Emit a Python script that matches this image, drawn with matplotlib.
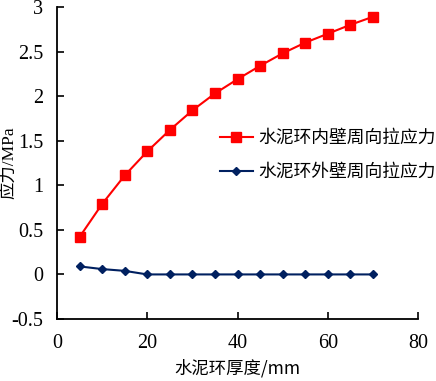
import matplotlib
matplotlib.use("Agg")
import matplotlib.pyplot as plt

thickness = [5, 10, 15, 20, 25, 30, 35, 40, 45, 50, 55, 60, 65, 70]
inner_stress = [0.42, 0.79, 1.11, 1.38, 1.62, 1.84, 2.03, 2.19, 2.34, 2.48, 2.60, 2.70, 2.80, 2.89]
outer_stress = [0.09, 0.06, 0.04, 0.0, 0.0, 0.0, 0.0, 0.0, 0.0, 0.0, 0.0, 0.0, 0.0, 0.0]
series_names = ["水泥环内壁周向拉应力", "水泥环外壁周向拉应力"]
x_ticks = [0, 20, 40, 60, 80]
y_ticks = [-0.5, 0, 0.5, 1, 1.5, 2, 2.5, 3]
x_label = "水泥环厚度/mm"
y_label = "应力/MPa"

serif = ["Liberation Serif", "Noto Sans CJK SC"]
cjk = ["Noto Sans CJK SC", "DejaVu Sans"]

fig = plt.figure(figsize=(4.36, 3.81), dpi=100)
ax = fig.add_axes([57/436, 62/381, (418-57)/436, (319-7)/381])

ax.plot(thickness, inner_stress, color="#FF0000", marker="s", markersize=6.5,
        linewidth=1.5, label=series_names[0])
ax.plot(thickness, outer_stress, color="#002060", marker="D", markersize=4.2,
        linewidth=1.5, label=series_names[1])

ax.set_xlim(0, 80)
ax.set_ylim(-0.5, 3)
ax.set_xticks(x_ticks)
ax.set_yticks(y_ticks)
ax.set_yticklabels([f"{v:g}" for v in y_ticks])
for lab in ax.get_xticklabels() + ax.get_yticklabels():
    lab.set_fontfamily(serif)
    lab.set_fontsize(14.5)
ax.tick_params(axis="both", direction="in", length=5, width=1.2, colors="black")
ax.tick_params(axis="x", pad=11)
ax.tick_params(axis="y", pad=10)
for s in ["top", "right"]:
    ax.spines[s].set_visible(False)
for s in ["left", "bottom"]:
    ax.spines[s].set_linewidth(1.3)

ax.set_xlabel(x_label, fontfamily=cjk, fontsize=12.5, labelpad=4)
ax.set_ylabel(y_label, fontfamily=serif, fontsize=12.5)
ax.yaxis.set_label_coords(-0.11, 0.5)

leg = ax.legend(loc="center left", bbox_to_anchor=(220/436, (381-155)/381),
                bbox_transform=fig.transFigure, frameon=False,
                prop={"family": cjk, "size": 12.8}, handlelength=1.85,
                handletextpad=0.3, labelspacing=0.9, borderpad=0, borderaxespad=0)

fig.savefig("out.png", dpi=100)
